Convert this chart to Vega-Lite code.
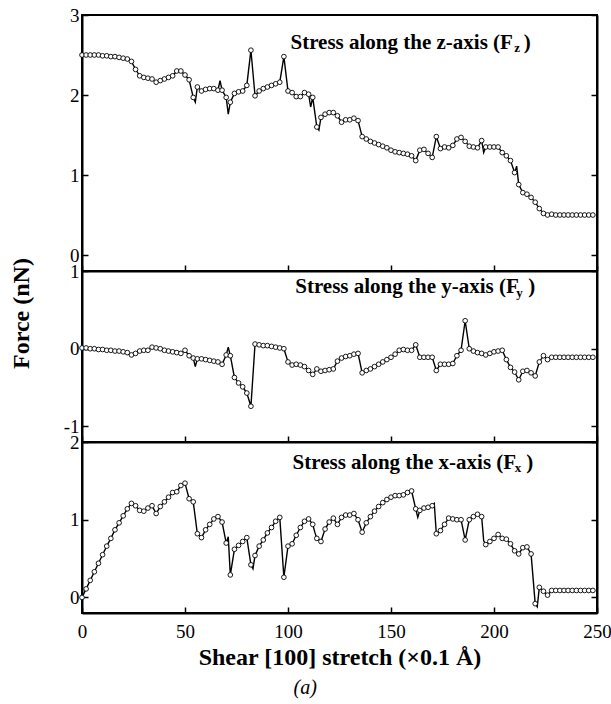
{
  "$schema": "https://vega.github.io/schema/vega-lite/v6.json",
  "padding": {"left": 8, "top": 5, "right": 5, "bottom": 5},
  "background": "white",
  "title": {"text": "(a)", "orient": "bottom", "anchor": "middle", "font": "Times New Roman, Liberation Serif, DejaVu Serif, serif", "fontStyle": "italic", "fontWeight": "normal", "fontSize": 20, "color": "black", "offset": 8, "dx": -5},
  "datasets": {
    "fz": [
      {"x":0,"f":2.50},{"x":2,"f":2.50},{"x":4,"f":2.50},{"x":6,"f":2.50},{"x":8,"f":2.50},{"x":10,"f":2.49},{"x":12,"f":2.49},{"x":14,"f":2.48},{"x":16,"f":2.48},{"x":18,"f":2.47},{"x":20,"f":2.46},{"x":22,"f":2.45},{"x":24,"f":2.42},{"x":26,"f":2.32},{"x":28,"f":2.24},{"x":30,"f":2.22},{"x":32,"f":2.21},{"x":34,"f":2.20},{"x":36,"f":2.16},{"x":38,"f":2.18},{"x":40,"f":2.20},{"x":42,"f":2.22},{"x":44,"f":2.24},{"x":46,"f":2.30},{"x":48,"f":2.30},{"x":50,"f":2.25},{"x":52,"f":2.19},{"x":54,"f":1.97},{"x":55,"f":1.91},{"x":56,"f":2.10},{"x":58,"f":2.05},{"x":60,"f":2.07},{"x":62,"f":2.08},{"x":64,"f":2.08},{"x":66,"f":2.06},{"x":67,"f":2.18},{"x":68,"f":2.06},{"x":70,"f":1.97},{"x":71,"f":1.76},{"x":72,"f":1.91},{"x":74,"f":2.02},{"x":76,"f":2.04},{"x":78,"f":2.05},{"x":80,"f":2.12},{"x":82,"f":2.56},{"x":84,"f":1.99},{"x":86,"f":2.05},{"x":88,"f":2.08},{"x":90,"f":2.10},{"x":92,"f":2.12},{"x":94,"f":2.14},{"x":96,"f":2.16},{"x":98,"f":2.48},{"x":100,"f":2.05},{"x":102,"f":2.03},{"x":104,"f":1.98},{"x":106,"f":1.98},{"x":108,"f":2.03},{"x":110,"f":2.01},{"x":111,"f":1.85},{"x":112,"f":1.97},{"x":114,"f":1.60},{"x":115,"f":1.56},{"x":116,"f":1.72},{"x":118,"f":1.76},{"x":120,"f":1.78},{"x":122,"f":1.78},{"x":124,"f":1.74},{"x":126,"f":1.66},{"x":128,"f":1.69},{"x":130,"f":1.69},{"x":132,"f":1.71},{"x":134,"f":1.68},{"x":136,"f":1.48},{"x":138,"f":1.45},{"x":140,"f":1.42},{"x":142,"f":1.40},{"x":144,"f":1.38},{"x":146,"f":1.36},{"x":148,"f":1.34},{"x":150,"f":1.31},{"x":152,"f":1.29},{"x":154,"f":1.28},{"x":156,"f":1.27},{"x":158,"f":1.26},{"x":160,"f":1.24},{"x":162,"f":1.18},{"x":164,"f":1.31},{"x":166,"f":1.32},{"x":168,"f":1.27},{"x":170,"f":1.22},{"x":172,"f":1.48},{"x":174,"f":1.33},{"x":176,"f":1.35},{"x":178,"f":1.34},{"x":180,"f":1.37},{"x":182,"f":1.45},{"x":184,"f":1.47},{"x":186,"f":1.42},{"x":188,"f":1.36},{"x":190,"f":1.35},{"x":192,"f":1.34},{"x":194,"f":1.43},{"x":195,"f":1.28},{"x":196,"f":1.35},{"x":198,"f":1.35},{"x":200,"f":1.35},{"x":202,"f":1.35},{"x":204,"f":1.28},{"x":206,"f":1.24},{"x":208,"f":1.18},{"x":210,"f":1.03},{"x":211,"f":1.11},{"x":212,"f":0.88},{"x":214,"f":0.78},{"x":216,"f":0.76},{"x":218,"f":0.72},{"x":220,"f":0.66},{"x":222,"f":0.58},{"x":224,"f":0.52},{"x":226,"f":0.50},{"x":228,"f":0.51},{"x":230,"f":0.50},{"x":232,"f":0.50},{"x":234,"f":0.50},{"x":236,"f":0.50},{"x":238,"f":0.50},{"x":240,"f":0.50},{"x":242,"f":0.50},{"x":244,"f":0.50},{"x":246,"f":0.50},{"x":248,"f":0.50}
    ],
    "fy": [
      {"x":0,"f":0.01},{"x":2,"f":0.01},{"x":4,"f":0.0},{"x":6,"f":0.0},{"x":8,"f":-0.01},{"x":10,"f":-0.01},{"x":12,"f":-0.02},{"x":14,"f":-0.02},{"x":16,"f":-0.03},{"x":18,"f":-0.03},{"x":20,"f":-0.04},{"x":22,"f":-0.05},{"x":24,"f":-0.08},{"x":26,"f":-0.06},{"x":28,"f":-0.03},{"x":30,"f":-0.02},{"x":32,"f":-0.02},{"x":34,"f":0.02},{"x":36,"f":0.01},{"x":38,"f":0.0},{"x":40,"f":-0.02},{"x":42,"f":-0.03},{"x":44,"f":-0.04},{"x":46,"f":-0.05},{"x":48,"f":-0.06},{"x":50,"f":-0.02},{"x":52,"f":-0.09},{"x":54,"f":-0.12},{"x":55,"f":-0.23},{"x":56,"f":-0.13},{"x":58,"f":-0.13},{"x":60,"f":-0.14},{"x":62,"f":-0.15},{"x":64,"f":-0.16},{"x":66,"f":-0.17},{"x":68,"f":-0.20},{"x":70,"f":-0.08},{"x":71,"f":0.02},{"x":72,"f":-0.09},{"x":74,"f":-0.37},{"x":76,"f":-0.44},{"x":78,"f":-0.49},{"x":80,"f":-0.57},{"x":82,"f":-0.74},{"x":84,"f":0.06},{"x":86,"f":0.05},{"x":88,"f":0.04},{"x":90,"f":0.04},{"x":92,"f":0.03},{"x":94,"f":0.02},{"x":96,"f":0.01},{"x":98,"f":0.0},{"x":100,"f":-0.17},{"x":102,"f":-0.21},{"x":104,"f":-0.20},{"x":106,"f":-0.21},{"x":108,"f":-0.23},{"x":110,"f":-0.28},{"x":112,"f":-0.33},{"x":114,"f":-0.26},{"x":116,"f":-0.29},{"x":118,"f":-0.28},{"x":120,"f":-0.27},{"x":122,"f":-0.26},{"x":124,"f":-0.16},{"x":126,"f":-0.12},{"x":128,"f":-0.10},{"x":130,"f":-0.09},{"x":132,"f":-0.07},{"x":134,"f":-0.06},{"x":136,"f":-0.31},{"x":138,"f":-0.28},{"x":140,"f":-0.26},{"x":142,"f":-0.23},{"x":144,"f":-0.20},{"x":146,"f":-0.17},{"x":148,"f":-0.14},{"x":150,"f":-0.11},{"x":152,"f":-0.07},{"x":154,"f":-0.02},{"x":156,"f":-0.01},{"x":158,"f":-0.02},{"x":160,"f":-0.02},{"x":162,"f":0.05},{"x":164,"f":-0.11},{"x":166,"f":-0.11},{"x":168,"f":-0.11},{"x":170,"f":-0.11},{"x":172,"f":-0.28},{"x":174,"f":-0.20},{"x":176,"f":-0.20},{"x":178,"f":-0.20},{"x":180,"f":-0.19},{"x":182,"f":-0.09},{"x":184,"f":-0.02},{"x":186,"f":0.36},{"x":188,"f":0.0},{"x":190,"f":-0.03},{"x":192,"f":-0.05},{"x":194,"f":-0.06},{"x":196,"f":-0.08},{"x":198,"f":-0.06},{"x":200,"f":-0.04},{"x":202,"f":-0.03},{"x":204,"f":-0.02},{"x":206,"f":-0.14},{"x":208,"f":-0.24},{"x":210,"f":-0.30},{"x":212,"f":-0.40},{"x":214,"f":-0.29},{"x":216,"f":-0.28},{"x":218,"f":-0.31},{"x":220,"f":-0.35},{"x":222,"f":-0.17},{"x":224,"f":-0.09},{"x":226,"f":-0.14},{"x":228,"f":-0.11},{"x":230,"f":-0.11},{"x":232,"f":-0.11},{"x":234,"f":-0.11},{"x":236,"f":-0.11},{"x":238,"f":-0.11},{"x":240,"f":-0.11},{"x":242,"f":-0.11},{"x":244,"f":-0.11},{"x":246,"f":-0.11},{"x":248,"f":-0.11}
    ],
    "fx": [
      {"x":0,"f":0.0},{"x":2,"f":0.11},{"x":4,"f":0.22},{"x":6,"f":0.33},{"x":8,"f":0.44},{"x":10,"f":0.55},{"x":12,"f":0.66},{"x":14,"f":0.76},{"x":16,"f":0.87},{"x":18,"f":0.96},{"x":20,"f":1.05},{"x":22,"f":1.14},{"x":24,"f":1.21},{"x":26,"f":1.18},{"x":28,"f":1.12},{"x":30,"f":1.11},{"x":32,"f":1.15},{"x":34,"f":1.18},{"x":36,"f":1.08},{"x":38,"f":1.17},{"x":40,"f":1.23},{"x":42,"f":1.29},{"x":44,"f":1.35},{"x":46,"f":1.36},{"x":48,"f":1.44},{"x":50,"f":1.47},{"x":52,"f":1.27},{"x":54,"f":1.23},{"x":56,"f":0.82},{"x":58,"f":0.77},{"x":60,"f":0.87},{"x":62,"f":0.94},{"x":64,"f":1.01},{"x":66,"f":1.04},{"x":68,"f":0.97},{"x":70,"f":0.70},{"x":71,"f":0.78},{"x":72,"f":0.29},{"x":74,"f":0.62},{"x":76,"f":0.67},{"x":78,"f":0.72},{"x":80,"f":0.77},{"x":82,"f":0.42},{"x":83,"f":0.37},{"x":84,"f":0.54},{"x":86,"f":0.66},{"x":88,"f":0.74},{"x":90,"f":0.83},{"x":92,"f":0.90},{"x":94,"f":0.98},{"x":96,"f":1.03},{"x":98,"f":0.26},{"x":100,"f":0.66},{"x":102,"f":0.69},{"x":104,"f":0.80},{"x":106,"f":0.90},{"x":108,"f":0.98},{"x":110,"f":1.01},{"x":112,"f":0.94},{"x":113,"f":0.84},{"x":114,"f":0.76},{"x":116,"f":0.72},{"x":118,"f":0.88},{"x":120,"f":0.97},{"x":122,"f":1.02},{"x":124,"f":0.94},{"x":126,"f":1.03},{"x":128,"f":1.06},{"x":130,"f":1.06},{"x":132,"f":1.08},{"x":134,"f":1.00},{"x":136,"f":0.84},{"x":138,"f":0.96},{"x":140,"f":1.04},{"x":142,"f":1.11},{"x":144,"f":1.17},{"x":146,"f":1.22},{"x":148,"f":1.26},{"x":150,"f":1.29},{"x":152,"f":1.31},{"x":154,"f":1.31},{"x":156,"f":1.32},{"x":158,"f":1.35},{"x":160,"f":1.37},{"x":162,"f":1.14},{"x":163,"f":1.03},{"x":164,"f":1.12},{"x":166,"f":1.15},{"x":168,"f":1.16},{"x":170,"f":1.18},{"x":171,"f":1.21},{"x":172,"f":0.82},{"x":174,"f":0.86},{"x":176,"f":0.94},{"x":178,"f":1.02},{"x":180,"f":1.01},{"x":182,"f":1.00},{"x":184,"f":1.00},{"x":186,"f":0.74},{"x":188,"f":1.00},{"x":190,"f":1.04},{"x":192,"f":1.07},{"x":194,"f":1.04},{"x":195,"f":0.73},{"x":196,"f":0.68},{"x":198,"f":0.72},{"x":200,"f":0.76},{"x":202,"f":0.81},{"x":204,"f":0.76},{"x":206,"f":0.75},{"x":208,"f":0.69},{"x":210,"f":0.60},{"x":212,"f":0.56},{"x":214,"f":0.64},{"x":216,"f":0.65},{"x":218,"f":0.56},{"x":220,"f":-0.08},{"x":221,"f":-0.12},{"x":222,"f":0.13},{"x":224,"f":0.08},{"x":226,"f":0.03},{"x":228,"f":0.09},{"x":230,"f":0.09},{"x":232,"f":0.09},{"x":234,"f":0.09},{"x":236,"f":0.09},{"x":238,"f":0.09},{"x":240,"f":0.09},{"x":242,"f":0.09},{"x":244,"f":0.09},{"x":246,"f":0.09},{"x":248,"f":0.09}
    ]
  },
  "vconcat": [
    {
      "width": 515, "height": 256,
      "data": {"name": "fz"},
      "encoding": {"x": {"field": "x", "type": "quantitative", "scale": {"domain": [0, 250], "nice": false}, "axis": {"orient": "bottom", "values": [0, 50, 100, 150, 200, 250], "labels": false, "title": null}}},
      "layer": [
        {"mark": {"type": "line", "color": "black", "strokeWidth": 1.4}, "encoding": {"y": {"field": "f", "type": "quantitative", "scale": {"domain": [-0.2, 3], "nice": false, "zero": false}, "axis": {"orient": "left", "values": [0, 1, 2, 3], "labelExpr": "'' + datum.value", "title": null}}}},
        {"transform": [{"filter": "datum.x % 2 === 0"}], "mark": {"type": "point", "shape": "circle", "filled": true, "fill": "white", "stroke": "black", "strokeWidth": 0.9, "size": 22, "opacity": 1}, "encoding": {"y": {"field": "f", "type": "quantitative", "scale": {"domain": [-0.2, 3], "nice": false, "zero": false}, "axis": {"orient": "right", "values": [0, 1, 2, 3], "labels": false, "title": null}}}},
        {"data": {"values": [{"x": 101.2, "f": 2.655, "t": "Stress along the z-axis (F"}, {"x": 214.4, "f": 2.655, "t": ")"}]}, "mark": {"type": "text", "align": "left", "baseline": "middle", "fontWeight": "bold", "fontSize": 21, "color": "black"}, "encoding": {"y": {"field": "f", "type": "quantitative", "scale": {"domain": [-0.2, 3], "nice": false, "zero": false}, "axis": null}, "text": {"field": "t"}}},
        {"data": {"values": [{"x": 211.2, "f": 2.59, "t": "z"}]}, "mark": {"type": "text", "align": "center", "baseline": "middle", "fontWeight": "bold", "fontSize": 13, "color": "black"}, "encoding": {"y": {"field": "f", "type": "quantitative", "scale": {"domain": [-0.2, 3], "nice": false, "zero": false}, "axis": null}, "text": {"field": "t"}}}
      ],
      "resolve": {"axis": {"y": "independent"}}
    },
    {
      "width": 515, "height": 171,
      "data": {"name": "fy"},
      "encoding": {"x": {"field": "x", "type": "quantitative", "scale": {"domain": [0, 250], "nice": false}, "axis": {"orient": "bottom", "values": [0, 50, 100, 150, 200, 250], "labels": false, "title": null}}},
      "layer": [
        {"mark": {"type": "line", "color": "black", "strokeWidth": 1.4}, "encoding": {"y": {"field": "f", "type": "quantitative", "scale": {"domain": [-1.2, 1], "nice": false, "zero": false}, "axis": {"orient": "left", "values": [-1, 0, 1], "labelExpr": "'' + datum.value", "title": "Force (nN)", "titleFontWeight": "bold", "titleFontSize": 24, "titleX": -54, "titleY": 42, "titleBaseline": "alphabetic", "titleAngle": -90, "titleAlign": "center"}}}},
        {"transform": [{"filter": "datum.x % 2 === 0"}], "mark": {"type": "point", "shape": "circle", "filled": true, "fill": "white", "stroke": "black", "strokeWidth": 0.9, "size": 22, "opacity": 1}, "encoding": {"y": {"field": "f", "type": "quantitative", "scale": {"domain": [-1.2, 1], "nice": false, "zero": false}, "axis": {"orient": "right", "values": [-1, 0, 1], "labels": false, "title": null}}}},
        {"data": {"values": [{"x": 103.5, "f": 0.79, "t": "Stress along the y-axis (F"}, {"x": 216.6, "f": 0.79, "t": ")"}]}, "mark": {"type": "text", "align": "left", "baseline": "middle", "fontWeight": "bold", "fontSize": 21, "color": "black"}, "encoding": {"y": {"field": "f", "type": "quantitative", "scale": {"domain": [-1.2, 1], "nice": false, "zero": false}, "axis": null}, "text": {"field": "t"}}},
        {"data": {"values": [{"x": 212.4, "f": 0.72, "t": "y"}]}, "mark": {"type": "text", "align": "center", "baseline": "middle", "fontWeight": "bold", "fontSize": 13, "color": "black"}, "encoding": {"y": {"field": "f", "type": "quantitative", "scale": {"domain": [-1.2, 1], "nice": false, "zero": false}, "axis": null}, "text": {"field": "t"}}}
      ],
      "resolve": {"axis": {"y": "independent"}}
    },
    {
      "width": 515, "height": 171,
      "data": {"name": "fx"},
      "encoding": {"x": {"field": "x", "type": "quantitative", "scale": {"domain": [0, 250], "nice": false}, "axis": {"orient": "bottom", "values": [0, 50, 100, 150, 200, 250], "labelFlush": false, "labelPadding": 15, "title": "Shear [100] stretch (×0.1 Å)", "titleFontWeight": "bold", "titleFontSize": 24, "titlePadding": 4}}},
      "layer": [
        {"mark": {"type": "line", "color": "black", "strokeWidth": 1.4}, "encoding": {"y": {"field": "f", "type": "quantitative", "scale": {"domain": [-0.2, 2], "nice": false, "zero": false}, "axis": {"orient": "left", "values": [0, 1, 2], "labelExpr": "'' + datum.value", "title": null}}}},
        {"transform": [{"filter": "datum.x % 2 === 0"}], "mark": {"type": "point", "shape": "circle", "filled": true, "fill": "white", "stroke": "black", "strokeWidth": 0.9, "size": 22, "opacity": 1}, "encoding": {"y": {"field": "f", "type": "quantitative", "scale": {"domain": [-0.2, 2], "nice": false, "zero": false}, "axis": {"orient": "right", "values": [0, 1, 2], "labels": false, "title": null}}}},
        {"data": {"values": [{"x": 102.2, "f": 1.73, "t": "Stress along the x-axis (F"}, {"x": 215.6, "f": 1.73, "t": ")"}]}, "mark": {"type": "text", "align": "left", "baseline": "middle", "fontWeight": "bold", "fontSize": 21, "color": "black"}, "encoding": {"y": {"field": "f", "type": "quantitative", "scale": {"domain": [-0.2, 2], "nice": false, "zero": false}, "axis": null}, "text": {"field": "t"}}},
        {"data": {"values": [{"x": 211.6, "f": 1.665, "t": "x"}]}, "mark": {"type": "text", "align": "center", "baseline": "middle", "fontWeight": "bold", "fontSize": 13, "color": "black"}, "encoding": {"y": {"field": "f", "type": "quantitative", "scale": {"domain": [-0.2, 2], "nice": false, "zero": false}, "axis": null}, "text": {"field": "t"}}}
      ],
      "resolve": {"axis": {"y": "independent"}}
    }
  ],
  "spacing": 0,
  "bounds": "flush",
  "config": {
    "font": "Times New Roman, Liberation Serif, DejaVu Serif, serif",
    "text": {"font": "Times New Roman, Liberation Serif, DejaVu Serif, serif"},
    "title": {"font": "Times New Roman, Liberation Serif, DejaVu Serif, serif"},
    "view": {"stroke": "black", "strokeWidth": 2},
    "axis": {"domainColor": "black", "domainWidth": 2, "tickColor": "black", "tickWidth": 1.5, "tickSize": -6, "labelFont": "Times New Roman, Liberation Serif, DejaVu Serif, serif", "titleFont": "Times New Roman, Liberation Serif, DejaVu Serif, serif", "labelFontSize": 19, "labelColor": "black", "labelPadding": 9, "grid": false, "titleColor": "black"}
  }
}
